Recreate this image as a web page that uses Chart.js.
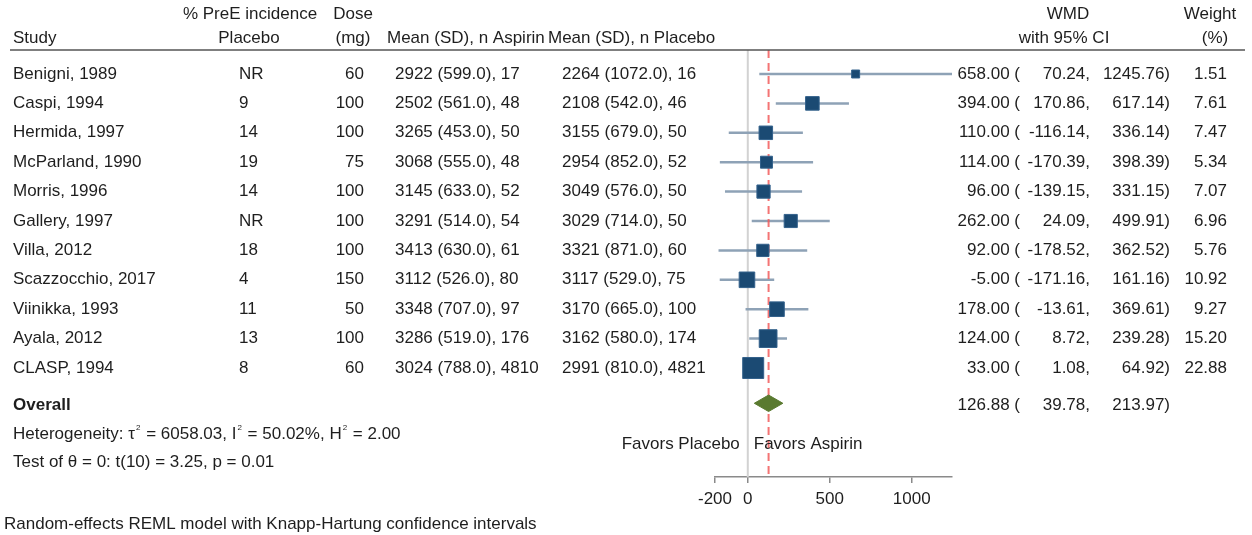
<!DOCTYPE html>
<html>
<head>
<meta charset="utf-8">
<script src="https://cdn.jsdelivr.net/npm/chart.js@4.4.0/dist/chart.umd.min.js"></script>
<style>
  html, body { margin: 0; padding: 0; background: #ffffff; }
  canvas { display: block; }
</style>
</head>
<body>
<canvas id="forest" width="1252" height="535"></canvas>
<script>
// ---- study-level data ----
const studies = ["Benigni, 1989", "Caspi, 1994", "Hermida, 1997", "McParland, 1990", "Morris, 1996",
  "Gallery, 1997", "Villa, 2012", "Scazzocchio, 2017", "Viinikka, 1993", "Ayala, 2012", "CLASP, 1994"];
const preeIncidence = ["NR", "9", "14", "19", "14", "NR", "18", "4", "11", "13", "8"];
const doseMg = [60, 100, 100, 75, 100, 100, 100, 150, 50, 100, 60];
const aspirinMean = [2922, 2502, 3265, 3068, 3145, 3291, 3413, 3112, 3348, 3286, 3024];
const aspirinSD = [599.0, 561.0, 453.0, 555.0, 633.0, 514.0, 630.0, 526.0, 707.0, 519.0, 788.0];
const aspirinN = [17, 48, 50, 48, 52, 54, 61, 80, 97, 176, 4810];
const placeboMean = [2264, 2108, 3155, 2954, 3049, 3029, 3321, 3117, 3170, 3162, 2991];
const placeboSD = [1072.0, 542.0, 679.0, 852.0, 576.0, 714.0, 871.0, 529.0, 665.0, 580.0, 810.0];
const placeboN = [16, 46, 50, 52, 50, 50, 60, 75, 100, 174, 4821];
const wmd = [658.00, 394.00, 110.00, 114.00, 96.00, 262.00, 92.00, -5.00, 178.00, 124.00, 33.00];
const ciLow = [70.24, 170.86, -116.14, -170.39, -139.15, 24.09, -178.52, -171.16, -13.61, 8.72, 1.08];
const ciHigh = [1245.76, 617.14, 336.14, 398.39, 331.15, 499.91, 362.52, 161.16, 369.61, 239.28, 64.92];
const weightPct = [1.51, 7.61, 7.47, 5.34, 7.07, 6.96, 5.76, 10.92, 9.27, 15.20, 22.88];

// ---- pooled estimate and test statistics ----
const overallEst = 126.88;
const overallLow = 39.78;
const overallHigh = 213.97;
const tau2 = "6058.03";
const i2 = "50.02";
const h2 = "2.00";
const tDf = 10;
const tStat = "3.25";
const pValue = "0.01";

// ---- axis ----
const xTicks = [-200, 0, 500, 1000];
const xMin = -200;
const xMax = 1245.76;

// ---- layout / style ----
const FONT = '17px "Liberation Sans", Arial, sans-serif';
const FONT_BOLD = 'bold 17px "Liberation Sans", Arial, sans-serif';
const FONT_SUP = '8px "Liberation Sans", Arial, sans-serif';
const TEXT = '#1e1e1e';
const ROW_PX = 29.4;                 // vertical spacing of study rows
const PLOT_TOP = 50, PLOT_BOTTOM = 477;
const FIRST_ROW_PX = 74;
const yMin = (PLOT_TOP - FIRST_ROW_PX) / ROW_PX;
const yMax = (PLOT_BOTTOM - FIRST_ROW_PX) / ROW_PX;
const overallRow = 11.2;
const diamondHalf = 0.28;

const boxSide = w => 3.5 + 3.66 * Math.sqrt(w);   // marker side grows with study weight

const datasets = [];

// study markers (drawn on top)
datasets.push({
  data: wmd.map((v, i) => ({ x: v, y: i })),
  pointStyle: 'rect',
  pointRadius: weightPct.map(w => boxSide(w) / Math.SQRT2),
  pointBackgroundColor: '#1b4a73',
  pointBorderColor: '#34628c',
  pointBorderWidth: 1,
  showLine: false,
  order: 0
});

// pooled diamond
datasets.push({
  data: [
    { x: overallLow, y: overallRow },
    { x: overallEst, y: overallRow - diamondHalf },
    { x: overallHigh, y: overallRow },
    { x: overallEst, y: overallRow + diamondHalf },
    { x: overallLow, y: overallRow }
  ],
  showLine: true,
  fill: 'shape',
  backgroundColor: '#5a7a30',
  borderColor: '#5a7a30',
  borderWidth: 1,
  pointRadius: 0,
  tension: 0,
  order: 1
});

// pooled-estimate reference line
datasets.push({
  data: [{ x: overallEst, y: yMin }, { x: overallEst, y: yMax }],
  showLine: true,
  borderColor: 'rgba(242, 92, 92, 0.85)',
  borderWidth: 2,
  borderDash: [8, 5],
  pointRadius: 0,
  order: 2
});

// confidence intervals
studies.forEach((s, i) => {
  datasets.push({
    data: [{ x: ciLow[i], y: i }, { x: ciHigh[i], y: i }],
    showLine: true,
    borderColor: '#8ea2b6',
    borderWidth: 2.5,
    pointRadius: 0,
    order: 3
  });
});

// no-effect line
datasets.push({
  data: [{ x: 0, y: yMin }, { x: 0, y: yMax }],
  showLine: true,
  borderColor: '#d2d2d2',
  borderWidth: 2,
  pointRadius: 0,
  order: 4
});

function drawRich(ctx, parts, x, y) {
  for (const p of parts) {
    if (p.sup) {
      ctx.font = FONT_SUP;
      ctx.fillText(p.t, x + 1, y - 6);
      x += ctx.measureText(p.t).width + 2;
      ctx.font = FONT;
    } else {
      ctx.fillText(p.t, x, y);
      x += ctx.measureText(p.t).width;
    }
  }
}

const tablePlugin = {
  id: 'forestTable',
  afterDraw(chart) {
    const ctx = chart.ctx;
    const ys = chart.scales.y;
    const xs = chart.scales.x;
    ctx.save();
    ctx.fillStyle = TEXT;
    ctx.textBaseline = 'middle';
    ctx.font = FONT;

    const put = (t, x, y, align) => { ctx.textAlign = align; ctx.fillText(t, x, y); };

    // column headers
    const h1 = 14, h2y = 38;
    put('Study', 13, h2y, 'left');
    put('% PreE incidence', 250, h1, 'center');
    put('Placebo', 249, h2y, 'center');
    put('Dose', 353, h1, 'center');
    put('(mg)', 353, h2y, 'center');
    put('Mean (SD), n Aspirin', 387, h2y, 'left');
    put('Mean (SD), n Placebo', 548, h2y, 'left');
    put('WMD', 1068, h1, 'center');
    put('with 95% CI', 1064, h2y, 'center');
    put('Weight', 1210, h1, 'center');
    put('(%)', 1215, h2y, 'center');

    // header rule
    ctx.strokeStyle = '#555555';
    ctx.lineWidth = 1.5;
    ctx.beginPath();
    ctx.moveTo(10, PLOT_TOP);
    ctx.lineTo(1245, PLOT_TOP);
    ctx.stroke();

    // study rows
    studies.forEach((s, i) => {
      const y = ys.getPixelForValue(i);
      put(s, 13, y, 'left');
      put(preeIncidence[i], 239, y, 'left');
      put(String(doseMg[i]), 364, y, 'right');
      put(`${aspirinMean[i]} (${aspirinSD[i].toFixed(1)}), ${aspirinN[i]}`, 395, y, 'left');
      put(`${placeboMean[i]} (${placeboSD[i].toFixed(1)}), ${placeboN[i]}`, 562, y, 'left');
      put(`${wmd[i].toFixed(2)} (`, 1020, y, 'right');
      put(`${ciLow[i].toFixed(2)},`, 1090, y, 'right');
      put(`${ciHigh[i].toFixed(2)})`, 1170, y, 'right');
      put(weightPct[i].toFixed(2), 1227, y, 'right');
    });

    // pooled row
    const yo = ys.getPixelForValue(overallRow) + 2;
    ctx.font = FONT_BOLD;
    put('Overall', 13, yo, 'left');
    ctx.font = FONT;
    put(`${overallEst.toFixed(2)} (`, 1020, yo, 'right');
    put(`${overallLow.toFixed(2)},`, 1090, yo, 'right');
    put(`${overallHigh.toFixed(2)})`, 1170, yo, 'right');

    // heterogeneity and test
    ctx.textAlign = 'left';
    drawRich(ctx, [
      { t: 'Heterogeneity: τ' }, { t: '2', sup: true }, { t: ` = ${tau2}, I` }, { t: '2', sup: true },
      { t: ` = ${i2}%, H` }, { t: '2', sup: true }, { t: ` = ${h2}` }
    ], 13, 434);
    put(`Test of θ = 0: t(${tDf}) = ${tStat}, p = ${pValue}`, 13, 462, 'left');

    // direction labels
    const x0 = xs.getPixelForValue(0);
    put('Favors Placebo', x0 - 8, 444, 'right');
    put('Favors Aspirin', x0 + 6, 444, 'left');

    // model note
    put('Random-effects REML model with Knapp-Hartung confidence intervals', 4, 524, 'left');
    ctx.restore();
  }
};

new Chart(document.getElementById('forest'), {
  type: 'scatter',
  data: { datasets },
  options: {
    responsive: false,
    animation: false,
    devicePixelRatio: 1,
    layout: { padding: { left: 715, right: 300, top: PLOT_TOP, bottom: 0 } },
    plugins: { legend: { display: false }, tooltip: { enabled: false } },
    scales: {
      x: {
        type: 'linear',
        min: xMin,
        max: xMax,
        afterBuildTicks: s => { s.ticks = xTicks.map(v => ({ value: v })); },
        afterFit: s => { s.height = 535 - PLOT_BOTTOM; },
        grid: { display: true, drawOnChartArea: false, drawTicks: true, tickLength: 6, color: '#8a8a8a', lineWidth: 1.5 },
        border: { display: true, color: '#8a8a8a', width: 1.5 },
        ticks: {
          font: { family: '"Liberation Sans", Arial, sans-serif', size: 17 },
          color: TEXT,
          padding: 6,
          maxRotation: 0,
          callback: v => String(v)
        }
      },
      y: {
        type: 'linear',
        reverse: true,
        min: yMin,
        max: yMax,
        display: false
      }
    }
  },
  plugins: [tablePlugin]
});
</script>
</body>
</html>
